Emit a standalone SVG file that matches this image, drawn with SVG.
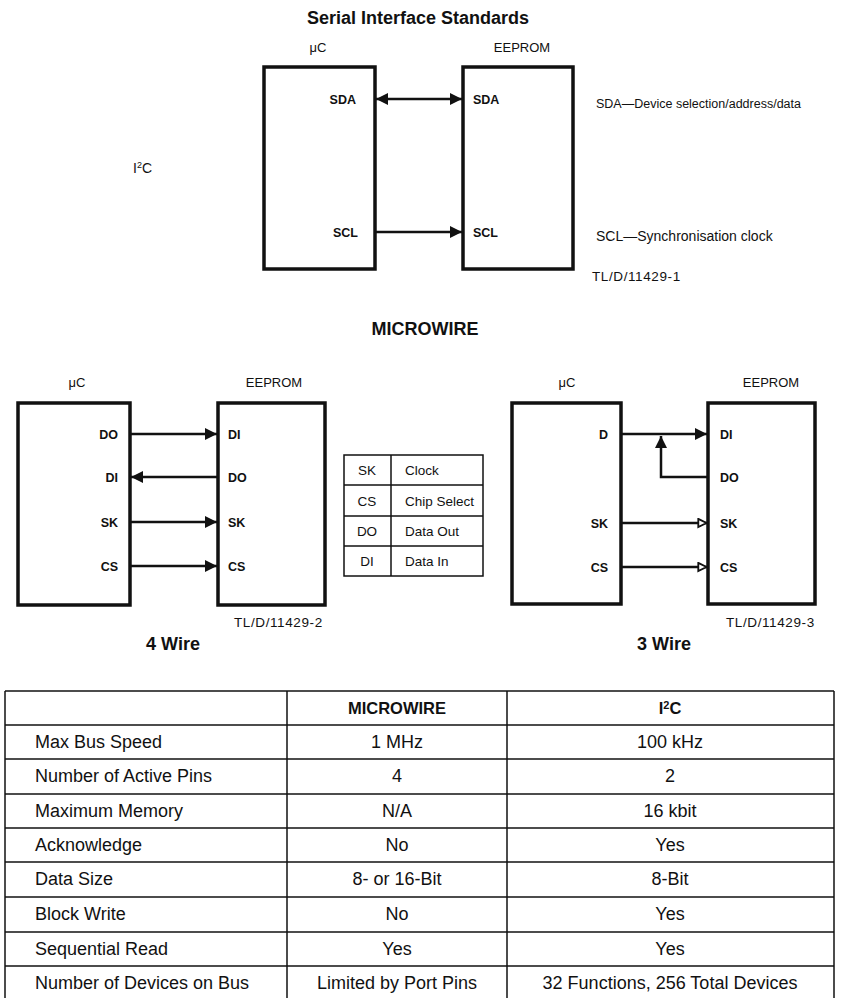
<svg xmlns="http://www.w3.org/2000/svg" width="845" height="998" viewBox="0 0 845 998">
<style>
text{font-family:"Liberation Sans",Arial,sans-serif;fill:#111}
.title{font-size:18px;font-weight:bold;text-anchor:middle}
.lbl{font-size:13px;text-anchor:middle}
.pin{font-size:12.5px;font-weight:bold}
.end{text-anchor:end}
.note{font-size:14px}
.note2{font-size:12.5px}
.code{font-size:13.5px;letter-spacing:0.6px}
.box{fill:none;stroke:#111;stroke-width:3.5}
.wire{fill:none;stroke:#111;stroke-width:2.5}
.tl{fill:none;stroke:#111;stroke-width:1.5}
.tt{font-size:18px}
.tc{font-size:18px;text-anchor:middle}
.th{font-size:16.5px;font-weight:bold;text-anchor:middle}
.lg{font-size:13.5px}
</style>
<defs>
<marker id="ah" viewBox="0 0 10 10" refX="10" refY="5" markerUnits="userSpaceOnUse" markerWidth="13" markerHeight="12" orient="auto-start-reverse">
<path d="M0,0 L10,5 L0,10 z" fill="#111"/>
</marker>
<marker id="ao" viewBox="0 0 12 12" refX="11" refY="6" markerUnits="userSpaceOnUse" markerWidth="12" markerHeight="11" orient="auto">
<path d="M1.5,1.5 L10.5,6 L1.5,10.5 z" fill="#fff" stroke="#111" stroke-width="2"/>
</marker>
</defs>

<text class="title" x="418" y="24">Serial Interface Standards</text>
<text class="note" x="133" y="173">I<tspan font-size="9" dy="-5">2</tspan><tspan dy="5">C</tspan></text>

<g id="i2c-uc">
<text class="lbl" x="318" y="52">μC</text>
<rect class="box" x="264" y="67" width="111" height="202"/>
<text class="pin end" x="356" y="104">SDA</text>
<text class="pin end" x="358" y="237">SCL</text>
</g>
<g id="i2c-eeprom">
<text class="lbl" x="522" y="52">EEPROM</text>
<rect class="box" x="463" y="67" width="110" height="202"/>
<text class="pin" x="473" y="104">SDA</text>
<text class="pin" x="473" y="237">SCL</text>
</g>
<g id="i2c-notes">
<text class="note2" x="596" y="108">SDA—Device selection/address/data</text>
<text class="note" x="596" y="241">SCL—Synchronisation clock</text>
<text class="code" x="592" y="281">TL/D/11429-1</text>
</g>

<text class="title" x="425" y="335">MICROWIRE</text>

<g id="mw4-uc">
<text class="lbl" x="77" y="387">μC</text>
<rect class="box" x="18" y="403" width="112" height="202"/>
<text class="pin end" x="118" y="439">DO</text>
<text class="pin end" x="118" y="482">DI</text>
<text class="pin end" x="118" y="527">SK</text>
<text class="pin end" x="118" y="571">CS</text>
</g>
<g id="mw4-eeprom">
<text class="lbl" x="274" y="387">EEPROM</text>
<rect class="box" x="218" y="403" width="107" height="202"/>
<text class="pin" x="228" y="439">DI</text>
<text class="pin" x="228" y="482">DO</text>
<text class="pin" x="228" y="527">SK</text>
<text class="pin" x="228" y="571">CS</text>
</g>
<text class="code" x="234" y="627">TL/D/11429-2</text>
<text class="title" x="173" y="650">4 Wire</text>

<g id="legend">
<rect class="tl" x="344" y="455" width="139" height="121"/>
<line class="tl" x1="391" y1="455" x2="391" y2="576"/>
<line class="tl" x1="344" y1="485" x2="483" y2="485"/>
<line class="tl" x1="344" y1="516" x2="483" y2="516"/>
<line class="tl" x1="344" y1="546" x2="483" y2="546"/>
<text class="lg" x="367" y="475" text-anchor="middle">SK</text>
<text class="lg" x="405" y="475">Clock</text>
<text class="lg" x="367" y="506" text-anchor="middle">CS</text>
<text class="lg" x="405" y="506">Chip Select</text>
<text class="lg" x="367" y="536" text-anchor="middle">DO</text>
<text class="lg" x="405" y="536">Data Out</text>
<text class="lg" x="367" y="566" text-anchor="middle">DI</text>
<text class="lg" x="405" y="566">Data In</text>
</g>

<g id="mw3-uc">
<text class="lbl" x="567" y="387">μC</text>
<rect class="box" x="512" y="403" width="109" height="201"/>
<text class="pin end" x="608" y="439">D</text>
<text class="pin end" x="608" y="528">SK</text>
<text class="pin end" x="608" y="572">CS</text>
</g>
<g id="mw3-eeprom">
<text class="lbl" x="771" y="387">EEPROM</text>
<rect class="box" x="708" y="403" width="107" height="201"/>
<text class="pin" x="720" y="439">DI</text>
<text class="pin" x="720" y="482">DO</text>
<text class="pin" x="720" y="528">SK</text>
<text class="pin" x="720" y="572">CS</text>
</g>
<text class="code" x="726" y="627">TL/D/11429-3</text>
<text class="title" x="664" y="650">3 Wire</text>

<g id="connectors">
<line class="wire" x1="376" y1="99" x2="462" y2="99" marker-start="url(#ah)" marker-end="url(#ah)"/>
<line class="wire" x1="376" y1="232" x2="462" y2="232" marker-end="url(#ah)"/>
<line class="wire" x1="131" y1="434" x2="217" y2="434" marker-end="url(#ah)"/>
<line class="wire" x1="217" y1="477" x2="131" y2="477" marker-end="url(#ah)"/>
<line class="wire" x1="131" y1="522" x2="217" y2="522" marker-end="url(#ah)"/>
<line class="wire" x1="131" y1="566" x2="217" y2="566" marker-end="url(#ah)"/>
<line class="wire" x1="622" y1="434" x2="707" y2="434" marker-end="url(#ah)"/>
<polyline class="wire" points="707,477 661,477 661,436" marker-end="url(#ah)"/>
<line class="wire" x1="622" y1="523" x2="707" y2="523" marker-end="url(#ao)"/>
<line class="wire" x1="622" y1="567" x2="707" y2="567" marker-end="url(#ao)"/>
</g>

<g id="comparison-table">
<line class="tl" x1="5" y1="691" x2="5" y2="998"/>
<line class="tl" x1="287" y1="691" x2="287" y2="998"/>
<line class="tl" x1="507" y1="691" x2="507" y2="998"/>
<line class="tl" x1="834" y1="691" x2="834" y2="998"/>
<line class="tl" x1="5" y1="691" x2="834" y2="691"/>
<line class="tl" x1="5" y1="725" x2="834" y2="725"/>
<line class="tl" x1="5" y1="759" x2="834" y2="759"/>
<line class="tl" x1="5" y1="794" x2="834" y2="794"/>
<line class="tl" x1="5" y1="828" x2="834" y2="828"/>
<line class="tl" x1="5" y1="862" x2="834" y2="862"/>
<line class="tl" x1="5" y1="897" x2="834" y2="897"/>
<line class="tl" x1="5" y1="932" x2="834" y2="932"/>
<line class="tl" x1="5" y1="966" x2="834" y2="966"/>
<text class="th" x="397" y="714">MICROWIRE</text>
<text class="th" x="670" y="714">I<tspan font-size="11" dy="-5">2</tspan><tspan dy="5">C</tspan></text>
<text class="tt" x="35" y="748">Max Bus Speed</text>
<text class="tc" x="397" y="748">1 MHz</text>
<text class="tc" x="670" y="748">100 kHz</text>
<text class="tt" x="35" y="782">Number of Active Pins</text>
<text class="tc" x="397" y="782">4</text>
<text class="tc" x="670" y="782">2</text>
<text class="tt" x="35" y="817">Maximum Memory</text>
<text class="tc" x="397" y="817">N/A</text>
<text class="tc" x="670" y="817">16 kbit</text>
<text class="tt" x="35" y="851">Acknowledge</text>
<text class="tc" x="397" y="851">No</text>
<text class="tc" x="670" y="851">Yes</text>
<text class="tt" x="35" y="885">Data Size</text>
<text class="tc" x="397" y="885">8- or 16-Bit</text>
<text class="tc" x="670" y="885">8-Bit</text>
<text class="tt" x="35" y="920">Block Write</text>
<text class="tc" x="397" y="920">No</text>
<text class="tc" x="670" y="920">Yes</text>
<text class="tt" x="35" y="955">Sequential Read</text>
<text class="tc" x="397" y="955">Yes</text>
<text class="tc" x="670" y="955">Yes</text>
<text class="tt" x="35" y="989">Number of Devices on Bus</text>
<text class="tc" x="397" y="989">Limited by Port Pins</text>
<text class="tc" x="670" y="989">32 Functions, 256 Total Devices</text>
</g>
</svg>
